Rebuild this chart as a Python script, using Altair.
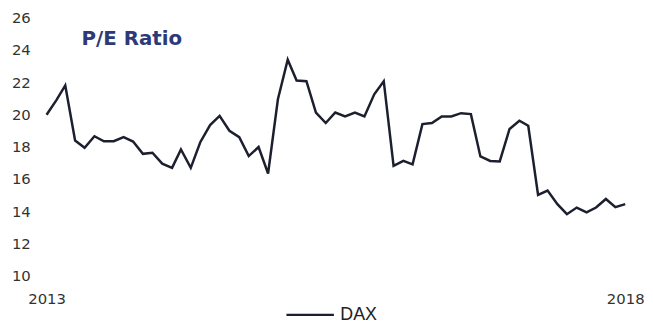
import altair as alt
import pandas as pd

series_name = "DAX"
months = pd.date_range("2013-01-01", "2018-01-01", freq="MS").strftime("%Y-%m-%d").tolist()
pe_ratio = [19.98, 20.89, 21.80, 18.38, 17.93, 18.65, 18.34, 18.34, 18.59, 18.32,
            17.56, 17.63, 16.95, 16.69, 17.83, 16.69, 18.28, 19.34, 19.91, 18.99,
            18.59, 17.42, 17.98, 16.34, 20.94, 23.39, 22.10, 22.06, 20.12, 19.47,
            20.12, 19.88, 20.12, 19.88, 21.25, 22.06, 16.81, 17.12, 16.91, 19.40,
            19.47, 19.88, 19.88, 20.08, 20.02, 17.40, 17.12, 17.09, 19.10, 19.61,
            19.30, 15.01, 15.28, 14.44, 13.82, 14.23, 13.93, 14.23, 14.76, 14.25, 14.44]
y_ticks = [10, 12, 14, 16, 18, 20, 22, 24, 26]
x_ticks = ["2013-01-01", "2018-01-01"]

df = pd.DataFrame({"date": months, "value": pe_ratio, "series": [series_name] * len(months)})

chart = alt.Chart(df).mark_line(strokeWidth=2.5).encode(
    x=alt.X("date:T",
            scale=alt.Scale(domain=[months[0], months[-1]], nice=False),
            axis=alt.Axis(title=None, values=[pd.Timestamp(v).isoformat() for v in x_ticks],
                          format="%Y", grid=False, domain=False, ticks=False,
                          labelFlush=False, labelPadding=16, labelFontSize=15,
                          labelFont="DejaVu Sans", labelColor="#333333", labelAngle=0)),
    y=alt.Y("value:Q",
            scale=alt.Scale(domain=[10, 26], nice=False, zero=False),
            axis=alt.Axis(title=None, values=y_ticks, grid=False, domain=False, ticks=False,
                          labelPadding=16.5, labelFontSize=15, labelFont="DejaVu Sans",
                          labelColor="#333333")),
    color=alt.Color("series:N",
                    scale=alt.Scale(domain=[series_name], range=["#1c1f2e"]),
                    legend=alt.Legend(title=None, orient="none", legendX=241, legendY=275,
                                      symbolType="stroke", symbolSize=2304,
                                      symbolStrokeWidth=2.5, labelFontSize=18,
                                      labelFont="Liberation Sans", labelColor="#222222",
                                      labelOffset=5, padding=0)),
).properties(
    width=585,
    height=261,
    title=alt.TitleParams("P/E Ratio", anchor="start", dx=71, dy=39, fontSize=20,
                          font="DejaVu Sans", fontWeight="bold", color="#2e3a78", offset=0),
    padding={"left": 3, "top": 1, "right": 0, "bottom": 0},
).configure_view(stroke=None)

chart.save("out.html", embed_options={"renderer": "svg", "actions": False})
